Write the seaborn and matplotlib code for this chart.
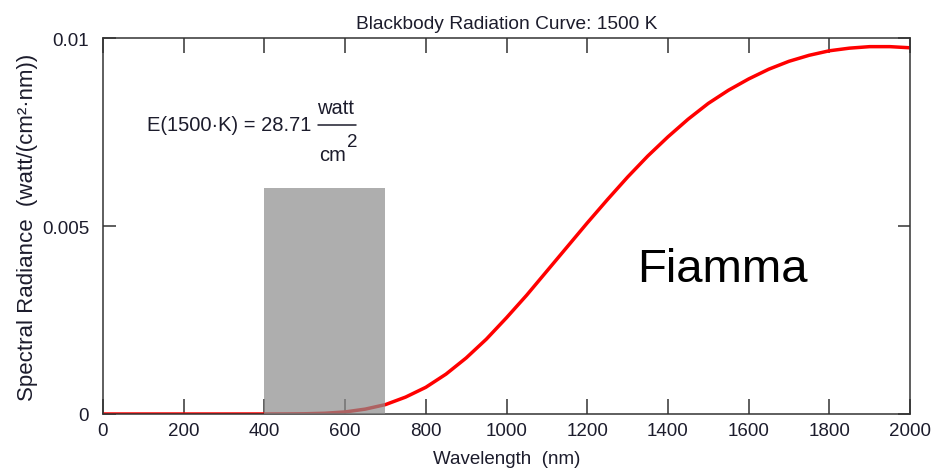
import numpy as np
import pandas as pd
import matplotlib
matplotlib.use("Agg")
import matplotlib.pyplot as plt
import seaborn as sns
from matplotlib.lines import Line2D
from matplotlib.patches import Rectangle

# Data
wavelength_nm = [0, 100, 200, 300, 400, 450, 500, 550, 600, 650, 700, 750, 800, 850, 900, 950,
                 1000, 1050, 1100, 1150, 1200, 1250, 1300, 1350, 1400, 1450, 1500,
                 1550, 1600, 1650, 1700, 1750, 1800, 1850, 1900, 1950, 2000]
radiance = [0.0, 0.0, 0.0, 0.0, 0.0000005, 0.000002, 0.000006, 0.00002, 0.000055, 0.00013,
            0.00025, 0.00045, 0.00071, 0.00106, 0.00149, 0.00199, 0.00256, 0.00316,
            0.00380, 0.00444, 0.00508, 0.00570, 0.00630, 0.00686, 0.00737, 0.00784,
            0.00826, 0.00861, 0.00891, 0.00917, 0.00938, 0.00954, 0.00966, 0.00973,
            0.00977, 0.00977, 0.00974]
visible_band = [400, 700]
visible_height = 0.006
x_ticks = [0, 200, 400, 600, 800, 1000, 1200, 1400, 1600, 1800, 2000]
y_ticks = [0, 0.005, 0.01]
y_ticklabels = ["0", "0.005", "0.01"]

df = pd.DataFrame({"Wavelength": wavelength_nm, "Radiance": radiance})

sns.set_style("ticks")
plt.rcParams["font.family"] = ["Liberation Sans", "DejaVu Sans"]

TXT = "#1c1c2c"
fig = plt.figure(figsize=(9.43, 4.77), dpi=100)
ax = fig.add_axes([103 / 943, 62 / 477, 807 / 943, 376 / 477])

sns.lineplot(data=df, x="Wavelength", y="Radiance", ax=ax, color="#ff0000",
             linewidth=2.5, zorder=2)

ax.add_patch(Rectangle((visible_band[0], 0), visible_band[1] - visible_band[0],
                       visible_height, facecolor="#8c8c8c", alpha=0.7,
                       edgecolor="none", zorder=3))

ax.set_xlim(0, 2000)
ax.set_ylim(0, 0.01)
ax.set_xticks(x_ticks)
ax.set_xticklabels([str(t) for t in x_ticks])
ax.set_yticks(y_ticks)
ax.set_yticklabels(y_ticklabels)

ax.tick_params(axis="x", direction="in", length=11, width=1.1, top=True, bottom=True,
               labelsize=13.5, colors="#333333", labelcolor=TXT, pad=6)
ax.tick_params(axis="y", direction="in", length=9, width=1.1, left=True, right=True,
               labelsize=13.5, colors="#333333", labelcolor=TXT, pad=10)
for s in ax.spines.values():
    s.set_visible(True)
    s.set_linewidth(1.1)
    s.set_color("#333333")

ax.set_xlabel("Wavelength  (nm)", fontsize=13.5, color=TXT, labelpad=8)
ax.set_ylabel("Spectral Radiance  (watt/(cm²·nm))", fontsize=16, color=TXT, labelpad=3)
ax.set_title("Blackbody Radiation Curve: 1500 K", fontsize=13.8, color=TXT, pad=7)

# formula annotation
ax.text(109, 0.00771, "E(1500·K) = 28.71", fontsize=14.5, color=TXT, ha="left", va="center")
ax.text(577, 0.00814, "watt", fontsize=14.5, color=TXT, ha="center", va="center")
ax.text(568, 0.00690, "cm", fontsize=14.5, color=TXT, ha="center", va="center")
ax.text(617, 0.00725, "2", fontsize=13.5, color=TXT, ha="center", va="center")
fig.add_artist(Line2D([318 / 943, 356 / 943], [1 - 125.5 / 477, 1 - 125.5 / 477],
                      color=TXT, linewidth=1.1))

ax.text(1323, 0.00354, "Fiamma", fontsize=34, color="black", ha="left", va="baseline")

fig.savefig("out.png", dpi=100)
